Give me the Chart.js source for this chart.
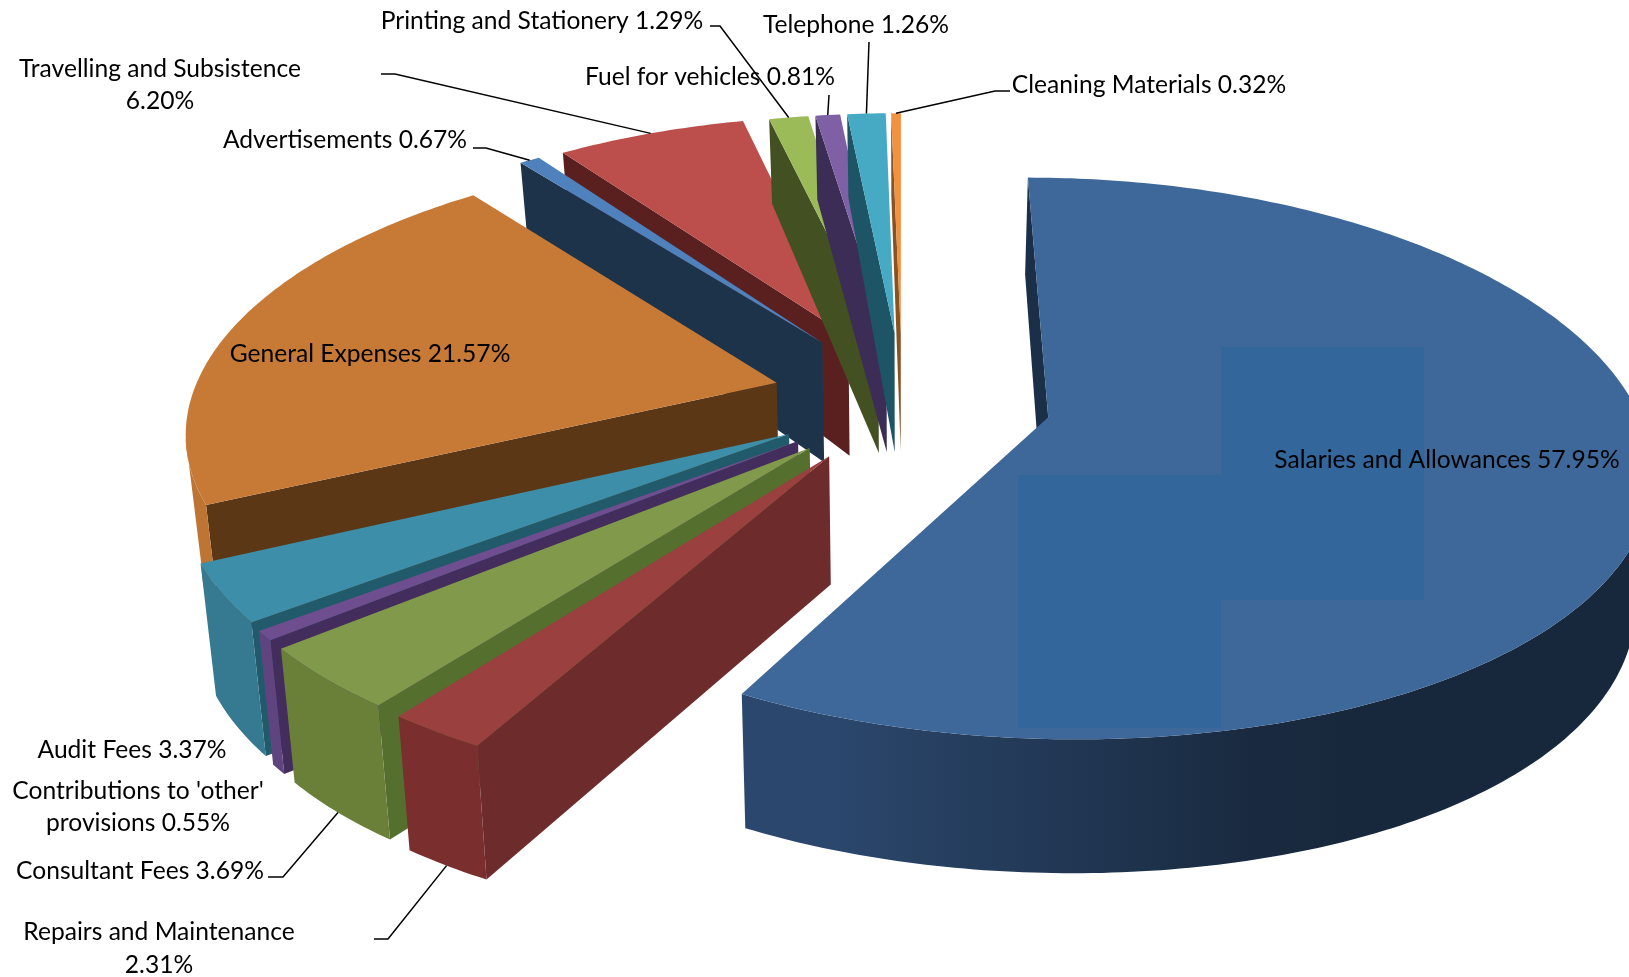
<!DOCTYPE html>
<html>
<head>
<meta charset="utf-8">
<title>Expenditure breakdown</title>
<script src="https://cdn.jsdelivr.net/npm/chart.js@4/dist/chart.umd.min.js"></script>
<style>
  html, body { margin: 0; padding: 0; background: #fff; overflow: hidden; }
  canvas { display: block; }
</style>
</head>
<body>
<canvas id="pie" width="1629" height="977"></canvas>
<script>
const categories = ["Salaries and Allowances", "Repairs and Maintenance", "Consultant Fees",
  "Contributions to 'other' provisions", "Audit Fees", "General Expenses", "Advertisements",
  "Travelling and Subsistence", "Printing and Stationery", "Fuel for vehicles", "Telephone", "Cleaning Materials"];
const values = [57.95, 2.31, 3.69, 0.55, 3.37, 21.57, 0.67, 6.20, 1.29, 0.81, 1.26, 0.32];

const topColors = ["#3E6899", "#9A403E", "#81994A", "#6F4E8F", "#3D8EA8", "#C67A36", "#4F81BD", "#BC4E4C", "#9BBB59", "#7F60A5", "#46AAC5", "#F2923F"];
const sideColors = ["#1B3048", "#6E2B2B", "#556F2F", "#432D5C", "#215A6A", "#5C3716", "#1D3349", "#5A2020", "#435022", "#3C2D57", "#1E5566", "#8A5220"];
const rimColors = ["#2E4C74", "#7A2E2E", "#6A8039", "#5F4480", "#357A91", "#BE7533", "#3C6595", "#8E3A38", "#748C42", "#5F4880", "#348199", "#B56D2F"];

// how far each slice is pulled out, as part of the radius
const explode = [0.255, 0.222, 0.222, 0.222, 0.222, 0.222, 0.235, 0.23, 0.222, 0.222, 0.222, 0.222];

// back to front, the slices overlap each other in this order
const drawOrder = [7, 8, 9, 10, 11, 6, 5, 4, 3, 2, 1, 0];

// text per slice: lines, centre x, y of each line
const labelLines = [
  ["Salaries and Allowances 57.95%"], ["Repairs and Maintenance", "2.31%"], ["Consultant Fees 3.69%"],
  ["Contributions to 'other'", "provisions 0.55%"], ["Audit Fees 3.37%"], ["General Expenses 21.57%"],
  ["Advertisements 0.67%"], ["Travelling and Subsistence", "6.20%"], ["Printing and Stationery 1.29%"],
  ["Fuel for vehicles 0.81%"], ["Telephone 1.26%"], ["Cleaning Materials 0.32%"]
];
const labelX = [1447, 159, 140, 138, 132, 370, 345, 160, 542, 710, 856, 1149];
const labelY = [[460], [932, 965], [871], [791, 823], [750], [354], [140], [69, 101], [21], [77], [25], [85]];

// leader lines: elbow points from label towards the slice, null = no leader
const leaderFrom = [null, [[374, 939], [388, 939]], [[268, 877], [283, 877]], null, null, null,
  [[473, 148], [486, 148]], [[381, 74], [395, 74]], [[710, 26], [720, 26]], [[829, 95]], [[869, 42]], [[1010, 91], [995, 91]]];
const leaderRim = [0, 1, 1, 0, 0, 0, 0, 0, 0, 0, 0, 0]; // 1 = ends on the lower edge of the rim

// slightly more saturated patches on the big slice, they are in the picture
const patchRects = [[1221, 347, 203, 253], [1018, 475, 203, 253]];

const SCALE = 1.198, TILT = 0.46, PERSP_X = 0.16, PERSP_Y = 0.145, STRETCH_Y = 1.126, LEAN = 0.022;
const SHIFT_X = 87.5, SHIFT_Y = -90.5;

// wall height shrinks towards the back of the pie
function depthAt(Y) {
  return 124.4 + 20 * Y - 10.4 * Y * Y;
}

function project(el, X, Y, z) {
  const S = el.outerRadius * SCALE;
  return [
    el.x + SHIFT_X + S * X / (1 - PERSP_X * Y) * (1 - LEAN * z), // walls lean in towards the bottom
    el.y + SHIFT_Y + S * TILT * Y / (1 - PERSP_Y * Y) + depthAt(Y) * z
  ];
}

function sliceOffset(el, i) {
  const mid = (el.startAngle + el.endAngle) / 2;
  return [Math.cos(mid) * explode[i], Math.sin(mid) * explode[i] * STRETCH_Y];
}

function rimPoints(el, i) {
  const o = sliceOffset(el, i);
  const n = Math.max(2, Math.ceil((el.endAngle - el.startAngle) * 70));
  const pts = [];
  for (let k = 0; k <= n; k++) {
    const a = el.startAngle + (el.endAngle - el.startAngle) * k / n;
    pts.push([o[0] + Math.cos(a), o[1] + Math.sin(a), Math.cos(a)]);
  }
  return pts;
}

function rimMiddle(el, i, z) {
  const o = sliceOffset(el, i);
  const mid = (el.startAngle + el.endAngle) / 2;
  return project(el, o[0] + Math.cos(mid), o[1] + Math.sin(mid), z);
}

function darken(hex, f) {
  const n = parseInt(hex.slice(1), 16);
  const c = [n >> 16, (n >> 8) & 255, n & 255].map(v => Math.round(v * f));
  return `rgb(${c[0]},${c[1]},${c[2]})`;
}

function rimShade(nx) {
  return nx < -0.45 ? 1 : nx > 0.3 ? 0.52 : 1 - (nx + 0.45) / 0.75 * 0.48;
}

function fillPoly(ctx, pts, color) {
  ctx.beginPath();
  pts.forEach((p, i) => i ? ctx.lineTo(p[0], p[1]) : ctx.moveTo(p[0], p[1]));
  ctx.closePath();
  ctx.fillStyle = color;
  ctx.fill();
}

function drawRim(ctx, el, i, rim) {
  // only the part of the rim that runs right to left on screen faces the viewer
  const visible = rim.filter((p, k) => {
    const here = project(el, p[0], p[1], 0)[0];
    const next = k < rim.length - 1 ? rim[k + 1] : rim[k - 1];
    const there = project(el, next[0], next[1], 0)[0];
    return k < rim.length - 1 ? there < here : here < there;
  });
  if (visible.length < 2) return;
  const upper = visible.map(p => project(el, p[0], p[1], 0));
  const lower = visible.map(p => project(el, p[0], p[1], 1)).reverse();
  const x0 = upper[0][0], x1 = upper[upper.length - 1][0];
  const grad = ctx.createLinearGradient(x0, 0, x1, 0);
  const step = Math.max(1, Math.floor(visible.length / 12));
  for (let k = 0; k < visible.length; k += step) {
    const t = Math.min(1, Math.max(0, (upper[k][0] - x0) / (x1 - x0)));
    grad.addColorStop(t, darken(rimColors[i], rimShade(visible[k][2])));
  }
  fillPoly(ctx, upper.concat(lower), grad);
}

function drawSlice(ctx, el, i) {
  const o = sliceOffset(el, i);
  const rim = rimPoints(el, i);
  const first = rim[0], last = rim[rim.length - 1];
  // radial walls, again only when they face the viewer
  [[o, first], [last, o]].forEach(edge => {
    const pa = project(el, edge[0][0], edge[0][1], 0), pb = project(el, edge[1][0], edge[1][1], 0);
    if (pb[0] >= pa[0]) return;
    const qa = project(el, edge[0][0], edge[0][1], 1), qb = project(el, edge[1][0], edge[1][1], 1);
    fillPoly(ctx, [pa, pb, qb, qa], sideColors[i]);
  });
  drawRim(ctx, el, i, rim);
  const top = [o].concat(rim).map(p => project(el, p[0], p[1], 0));
  fillPoly(ctx, top, topColors[i]);
  if (i === 0) {
    ctx.save();
    ctx.beginPath();
    top.forEach((p, k) => k ? ctx.lineTo(p[0], p[1]) : ctx.moveTo(p[0], p[1]));
    ctx.closePath();
    ctx.clip();
    ctx.fillStyle = "#33669A";
    patchRects.forEach(r => ctx.fillRect(r[0], r[1], r[2], r[3]));
    ctx.restore();
  }
}

function drawLabels(ctx, arcs) {
  ctx.strokeStyle = "#000";
  ctx.lineWidth = 1.5;
  leaderFrom.forEach((points, i) => {
    if (!points) return;
    const end = rimMiddle(arcs[i], i, leaderRim[i]);
    ctx.beginPath();
    points.forEach((p, k) => k ? ctx.lineTo(p[0], p[1]) : ctx.moveTo(p[0], p[1]));
    ctx.lineTo(end[0], end[1]);
    ctx.stroke();
  });
  ctx.fillStyle = "#000";
  ctx.font = "24.6px Lato";
  ctx.textAlign = "center";
  ctx.textBaseline = "middle";
  labelLines.forEach((lines, i) => {
    lines.forEach((t, k) => ctx.fillText(t, labelX[i], labelY[i][k]));
  });
}

const pie3d = {
  id: "pie3d",
  beforeDatasetsDraw(chart) {
    const ctx = chart.ctx;
    const arcs = chart.getDatasetMeta(0).data;
    ctx.save();
    drawOrder.forEach(i => drawSlice(ctx, arcs[i], i));
    drawLabels(ctx, arcs);
    ctx.restore();
    return false; // the flat pie itself is not wanted
  }
};

new Chart(document.getElementById("pie"), {
  type: "pie",
  data: { labels: categories, datasets: [{ data: values, backgroundColor: topColors, borderWidth: 0 }] },
  options: {
    responsive: false,
    animation: false,
    plugins: { legend: { display: false }, tooltip: { enabled: false } }
  },
  plugins: [pie3d]
});
</script>
</body>
</html>
